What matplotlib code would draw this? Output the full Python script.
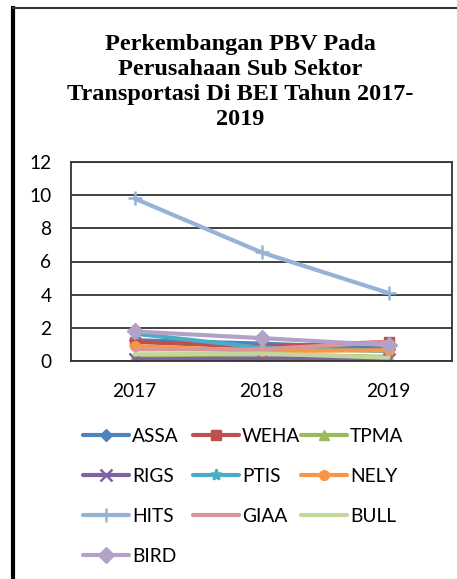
import matplotlib
matplotlib.use("Agg")
import matplotlib.pyplot as plt
from matplotlib.lines import Line2D

years = ["2017", "2018", "2019"]
series_names = ["ASSA", "WEHA", "TPMA", "RIGS", "PTIS", "NELY", "HITS", "GIAA", "BULL", "BIRD"]
ASSA = [1.25, 1.05, 0.75]
WEHA = [1.15, 0.85, 1.15]
TPMA = [0.3, 0.4, 0.25]
RIGS = [0.1, 0.15, 0.1]
PTIS = [1.65, 0.8, 0.6]
NELY = [0.9, 0.6, 0.65]
HITS = [9.8, 6.55, 4.1]
GIAA = [0.7, 0.7, 1.15]
BULL = [0.4, 0.45, 0.2]
BIRD = [1.78, 1.38, 0.96]
values = [ASSA, WEHA, TPMA, RIGS, PTIS, NELY, HITS, GIAA, BULL, BIRD]
title = "Perkembangan PBV Pada\nPerusahaan Sub Sektor\nTransportasi Di BEI Tahun 2017-\n2019"

colors = ["#4F81BD", "#C0504D", "#9BBB59", "#8064A2", "#4BACC6", "#F79646",
          "#95B3D7", "#D99694", "#C3D69B", "#B3A2C7"]
markers = ["D", "s", "^", "x", "*", "o", "+", None, None, "D"]
msizes = [6, 7, 7, 8, 8, 7, 10, 0, 0, 8]

fig = plt.figure(figsize=(4.57, 5.79), dpi=100)
ax = fig.add_axes([71/457, 1-361/579, (452-71)/457, (361-162)/579])

x = list(range(len(years)))
handles = {}
for name, vals, c, m, ms in zip(series_names, values, colors, markers, msizes):
    kw = dict(color=c, lw=3, solid_capstyle="round")
    if m is not None:
        kw.update(marker=m, markersize=ms, markeredgewidth=1.8 if m in ("x", "*", "+") else 1,
                  markeredgecolor=c, markerfacecolor=c)
    ax.plot(x, vals, label=name, **kw)
    handles[name] = Line2D([0], [0], **kw)

ax.set_xlim(-0.5, 2.5)
ax.set_ylim(0, 12)
ax.set_yticks(range(0, 13, 2))
ax.set_xticks(x)
ax.set_xticklabels(years)
ax.yaxis.grid(True, color="#333333", lw=1.3)
ax.set_axisbelow(True)
ax.tick_params(axis="x", length=0, labelsize=13.8, pad=16)
ax.tick_params(axis="y", length=0, labelsize=13.8, pad=14)
for lab in ax.get_xticklabels() + ax.get_yticklabels():
    lab.set_fontfamily("Lato")
for s in ax.spines.values():
    s.set_color("#333333")
    s.set_linewidth(1.3)

fig.text(240/457, 1-34/579, title, ha="center", va="top", fontsize=17.5,
         fontweight="bold", family="Liberation Serif", linespacing=1.25)

# legend: 3 columns filled row-wise, at fixed column positions
ncol = 3
col_x = [83, 193, 301]
for c in range(ncol):
    names = series_names[c::ncol]
    fig.legend(handles=[handles[n] for n in names], labels=names, ncol=1, loc="upper left",
               bbox_to_anchor=(col_x[c]/457, 1-428/579), frameon=False, borderpad=0,
               borderaxespad=0, prop={"family": "Lato", "size": 13.8}, handlelength=2.4,
               handletextpad=0.15, labelspacing=1.2)

# figure border (left and top)
fig.add_artist(Line2D([13/457, 13/457], [0, 1-8/579], color="black", lw=3, transform=fig.transFigure))
fig.add_artist(Line2D([13/457, 1], [1-8/579, 1-8/579], color="#333333", lw=1.5, transform=fig.transFigure))

fig.savefig("out.png", dpi=100)
